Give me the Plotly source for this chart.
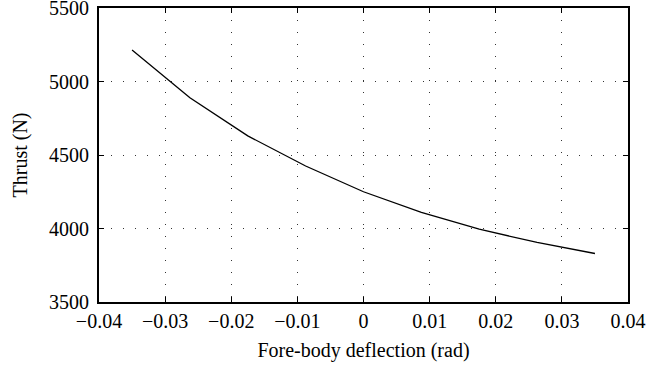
import plotly.graph_objects as go

deflection = [-0.035, -0.02625, -0.0175, -0.00875, 0.0, 0.00875, 0.0175, 0.02625, 0.035]
thrust = [5215, 4890, 4630, 4425, 4250, 4110, 3995, 3905, 3830]

x_ticks = [-0.04, -0.03, -0.02, -0.01, 0, 0.01, 0.02, 0.03, 0.04]
x_labels = ["\u22120.04", "\u22120.03", "\u22120.02", "\u22120.01", "0", "0.01", "0.02", "0.03", "0.04"]
y_ticks = [3500, 4000, 4500, 5000, 5500]

font = dict(family="Liberation Serif, Times New Roman, serif", size=20, color="black")

fig = go.Figure()
fig.add_trace(go.Scatter(x=deflection, y=thrust, mode="lines",
                         line=dict(color="black", width=1.3), showlegend=False))

axis_common = dict(showline=True, linecolor="black", linewidth=2, mirror="ticks",
                   ticks="inside", ticklen=5, tickcolor="black", tickwidth=1,
                   showgrid=True, gridcolor="#333333", gridwidth=1, griddash="1px,11px",
                   zeroline=False, tickfont=font, automargin=False,
                   ticklabeloverflow="allow")

fig.update_xaxes(range=[-0.04, 0.04], tickvals=x_ticks, ticktext=x_labels,
                 title=dict(text="Fore-body deflection (rad)", font=font, standoff=12),
                 **axis_common)
fig.update_yaxes(range=[3500, 5500], tickvals=y_ticks, ticklabelstandoff=4,
                 title=dict(text="Thrust (N)", font=font, standoff=16),
                 **axis_common)

fig.update_layout(width=669, height=373, margin=dict(l=99, r=41, t=8, b=71),
                  plot_bgcolor="white", paper_bgcolor="white", font=font)

fig.write_html("out.html", config={"displayModeBar": False},
               post_script="document.body.style.margin='0';document.body.style.overflow='hidden';")
